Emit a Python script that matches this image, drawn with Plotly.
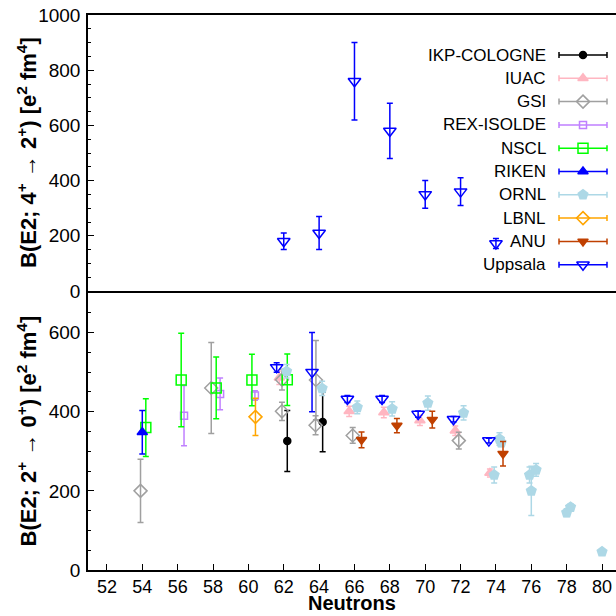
import plotly.graph_objects as go

# ---------------- data: B(E2; 2+ -> 0+) (bottom panel) ----------------
ikp_n   = [62.2, 64.2]
ikp_b   = [326, 374]
ikp_e   = [77, 75]

iuac_n  = [61.75, 65.7, 67.66, 69.7, 71.7, 73.66]
iuac_b  = [486, 401, 398, 378, 352, 245]
iuac_e  = [17, 13, 13, 13, 12, 10]

gsi_n   = [53.9, 57.9, 61.9, 61.9, 63.82, 63.8, 65.9, 71.9]
gsi_b   = [200, 460, 481, 401, 480, 366, 340, 327]
gsi_e   = [80, 115, 26, 23, 100, 24, 20, 21]

rex_n   = [56.36, 58.4, 60.37]
rex_b   = [390, 445, 441]
rex_e   = [76, 40, 12]

nscl_n  = [54.2, 56.2, 58.18, 60.2, 62.2]
nscl_b  = [360, 480, 460, 480, 481]
nscl_e  = [73, 118, 78, 65, 65]

riken_n = [54.0]
riken_b = [348]
riken_e = [55]

ornl_n  = [62.16, 64.17, 66.16, 68.13, 70.15, 72.17, 74.2, 74.3, 73.9, 75.9, 76.0, 76.27, 78.0, 78.22, 80.0]
ornl_b  = [502, 459, 411, 407, 422, 397, 331, 322, 240, 240, 200, 253, 145, 159, 46]
ornl_e  = [17, 18, 16, 18, 18, 18, 16, 10, 20, 20, 62, 16, 10, 8, 8]

lbnl_n  = [60.4]
lbnl_b  = [387]
lbnl_e  = [47]

anu_n   = [66.4, 68.4, 70.4, 74.4]
anu_b   = [329, 365, 380, 294]
anu_e   = [20, 18, 21, 31]

upp_n   = [61.6, 63.6, 65.6, 67.56, 69.6, 71.6, 73.6]
upp_b   = [512, 500, 432, 432, 394, 381, 327]
upp_e   = [12, 100, 9, 9, 8, 7, 6]

# ---------------- data: B(E2; 4+ -> 2+) (top panel, Uppsala) ----------------
upp4_n  = [62, 64, 66, 68, 70, 72, 74]
upp4_b  = [180, 210, 760, 580, 350, 360, 172]
upp4_e  = [30, 60, 140, 100, 50, 50, 18]

x_ticks = list(range(52, 81, 2))

labs = [
    ("IKP-COLOGNE", ikp_n, ikp_b, ikp_e, "#000000", "circle", 7),
    ("IUAC", iuac_n, iuac_b, iuac_e, "#ffb6c1", "triangle-up", 9),
    ("GSI", gsi_n, gsi_b, gsi_e, "#a0a0a0", "diamond-open", 10),
    ("REX-ISOLDE", rex_n, rex_b, rex_e, "#c080ff", "square-open", 7),
    ("NSCL", nscl_n, nscl_b, nscl_e, "#00ff00", "square-open", 10),
    ("RIKEN", riken_n, riken_b, riken_e, "#0000ff", "triangle-up", 9),
    ("ORNL", ornl_n, ornl_b, ornl_e, "#add8e6", "pentagon", 10),
    ("LBNL", lbnl_n, lbnl_b, lbnl_e, "#ffa500", "diamond-open", 10),
    ("ANU", anu_n, anu_b, anu_e, "#c04000", "triangle-down", 9),
    ("Uppsala", upp_n, upp_b, upp_e, "#0000ff", "triangle-down-open", 11),
]

fig = go.Figure()

for name, xs, ys, es, col, sym, sz in labs:
    fig.add_trace(go.Scatter(
        x=xs, y=ys, mode="markers", name=name, xaxis="x", yaxis="y",
        marker=dict(symbol=sym, size=sz, color=col, line=dict(color=col, width=1.5)),
        error_y=dict(type="data", array=es, visible=True, color=col, thickness=1.5, width=3),
        showlegend=False, cliponaxis=False,
    ))

fig.add_trace(go.Scatter(
    x=upp4_n, y=upp4_b, mode="markers", name="Uppsala 4+", xaxis="x2", yaxis="y2",
    marker=dict(symbol="triangle-down-open", size=11, color="#0000ff", line=dict(color="#0000ff", width=1.5)),
    error_y=dict(type="data", array=upp4_e, visible=True, color="#0000ff", thickness=1.5, width=3),
    showlegend=False,
))

# ---------------- custom gnuplot-style key (text left, sample right) ----------------
key_x_text = 548
key_x_sample = 583
key_half = 24
key_y0 = 55
key_dy = 23.3
annotations = []
for i, (name, xs, ys, es, col, sym, sz) in enumerate(labs):
    yy = key_y0 + i * key_dy
    fig.add_trace(go.Scatter(
        x=[key_x_sample], y=[yy], mode="markers", xaxis="x3", yaxis="y3",
        marker=dict(symbol=sym, size=sz, color=col, line=dict(color=col, width=1.5)),
        error_x=dict(type="constant", value=key_half, visible=True, color=col, thickness=1.5, width=3),
        showlegend=False, hoverinfo="skip",
    ))
    annotations.append(dict(
        x=key_x_text, y=yy, xref="x3", yref="y3", text=name, showarrow=False,
        xanchor="right", yanchor="middle", font=dict(size=17, color="#000000"),
    ))

bot_dom = [0, 0.4991]
top_dom = [0.5027, 1]

# axis titles as annotations (exact placement)
annotations.append(dict(
    x=0, y=(top_dom[0] + top_dom[1]) / 2, xref="paper", yref="paper", xshift=-61,
    text="<b>B(E2; 4<sup>+</sup> → 2<sup>+</sup>) [e<sup>2</sup> fm<sup>4</sup>]</b>",
    textangle=-90, showarrow=False, xanchor="center", yanchor="middle", font=dict(size=22)))
annotations.append(dict(
    x=0, y=(bot_dom[0] + bot_dom[1]) / 2, xref="paper", yref="paper", xshift=-61,
    text="<b>B(E2; 2<sup>+</sup> → 0<sup>+</sup>) [e<sup>2</sup> fm<sup>4</sup>]</b>",
    textangle=-90, showarrow=False, xanchor="center", yanchor="middle", font=dict(size=22)))
annotations.append(dict(
    x=0.5, y=0, xref="paper", yref="paper", yshift=-46,
    text="<b>Neutrons</b>", showarrow=False, xanchor="center", yanchor="bottom",
    font=dict(size=20)))

axis_common = dict(showgrid=False, zeroline=False, showline=True, linecolor="#000000",
                   linewidth=1.5, ticks="inside", tickcolor="#000000", tickwidth=1,
                   automargin=False)

fig.update_layout(
    width=616, height=616,
    margin=dict(l=88, r=0, t=15, b=46),
    paper_bgcolor="#ffffff", plot_bgcolor="rgba(0,0,0,0)",
    font=dict(family="Liberation Sans, Arial, sans-serif", size=19, color="#000000"),
    showlegend=False,
    annotations=annotations,
    xaxis=dict(domain=[0, 1], range=[50.93, 80.79], anchor="y", tickmode="array",
               tickvals=x_ticks, ticklen=6, mirror=True, ticklabelstandoff=0,
               tickfont=dict(size=18), **axis_common),
    xaxis2=dict(domain=[0, 1], range=[50.93, 80.79], anchor="y2", matches="x",
                showticklabels=False, mirror=True, showgrid=False, zeroline=False,
                showline=True, linecolor="#000000", linewidth=1.5, ticks="", automargin=False),
    yaxis=dict(domain=bot_dom, range=[0, 700], anchor="x", tickmode="array",
               tickvals=[0, 200, 400, 600], ticklen=6, ticklabelstandoff=2,
               minor=dict(dtick=50, tick0=0, ticks="inside", ticklen=3, tickcolor="#000000"),
               **axis_common),
    yaxis2=dict(domain=top_dom, range=[0, 1000], anchor="x2", tickmode="array",
                tickvals=[0, 200, 400, 600, 800, 1000], ticklen=6, ticklabelstandoff=2,
                minor=dict(dtick=50, tick0=0, ticks="inside", ticklen=3, tickcolor="#000000"),
                **axis_common),
    xaxis3=dict(domain=[0, 1], range=[88, 616], anchor="y3", visible=False, fixedrange=True),
    yaxis3=dict(domain=[0, 1], range=[570, 15], anchor="x3", visible=False, fixedrange=True),
)

fig.write_html("out.html", config={"displayModeBar": False},
               post_script="document.body.style.margin='0';document.body.style.overflow='hidden';")
